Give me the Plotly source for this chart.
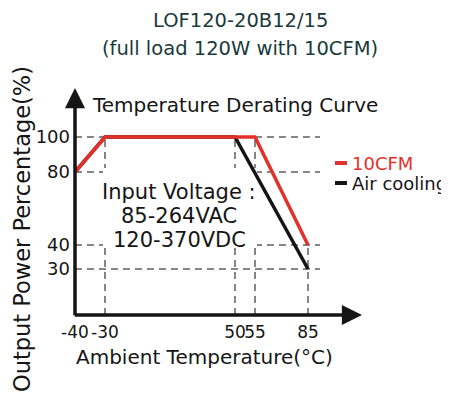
import numpy as np
import plotly.graph_objects as go

# ---------------- data ----------------
temp_ticks = [-40, -30, 50, 55, 85]
temp_labels = ["-40", "-30", "50", "55", "85"]
pct_ticks = [30, 40, 80, 100]
pct_labels = ["30", "40", "80", "100"]

cfm10_temp = [-40, -30, 55, 85]
cfm10_pct = [80, 100, 100, 40]
air_temp = [-40, -30, 50, 85]
air_pct = [80, 100, 100, 30]

# ------------- drawing scale (the drawing is not linear) -------------
T_ANCH = [-40, -30, 50, 55, 85]
T_POS = [0, 30, 160, 180, 233]
P_ANCH = [0, 30, 40, 80, 100]
P_POS = [0, 46, 70, 143, 178]


def sx(t):
    return np.interp(t, T_ANCH, T_POS)


def sy(p):
    return np.interp(p, P_ANCH, P_POS)


# page body has an 8px margin; lay the figure out in screen pixels minus that
OFF = 8
SW, SH = 449, 398
W, H = SW - OFF, SH - OFF
AX_X, AX_Y = 75, 315          # screen position of the axes corner
PLOT_R, PLOT_T = 365, 85      # screen right / top of plot area
L, T = AX_X - OFF, PLOT_T - OFF
R, B = W - (PLOT_R - OFF), H - (AX_Y - OFF)
XR = [0, PLOT_R - AX_X]
YR = [0, AX_Y - PLOT_T]


def px2paper_x(px):
    return (px - AX_X) / (PLOT_R - AX_X)


def px2paper_y(py):
    return (AX_Y - py) / (AX_Y - PLOT_T)


FONT = "DejaVu Sans"
RED = "#e4302b"
BLACK = "#151515"
GRID = "#5f5f5f"
TITLE_C = "#1b3a3b"

fig = go.Figure()
fig.add_trace(go.Scatter(x=sx(air_temp), y=sy(air_pct), mode="lines",
                         line=dict(color=BLACK, width=3.5), name="Air cooling",
                         showlegend=False))
fig.add_trace(go.Scatter(x=sx(cfm10_temp), y=sy(cfm10_pct), mode="lines",
                         line=dict(color=RED, width=3.5), name="10CFM",
                         showlegend=False))

shapes = []
XEND = 245
dash = dict(color=GRID, width=1.5, dash="7px,5px")
for p in pct_ticks:
    shapes.append(dict(type="line", xref="x", yref="y", x0=sx(-40), x1=XEND,
                       y0=sy(p), y1=sy(p), line=dash, layer="below"))
for t in temp_ticks[1:]:
    top = sy(100) if t != 85 else sy(40)
    shapes.append(dict(type="line", xref="x", yref="y", x0=sx(t), x1=sx(t),
                       y0=0, y1=top, line=dash, layer="below"))
# white panel behind the input-voltage note
shapes.append(dict(type="rect", xref="x", yref="y", x0=28, x1=182, y0=67, y1=147,
                   fillcolor="white", line=dict(width=0), layer="below"))
# legend swatches
shapes.append(dict(type="line", xref="x", yref="y", x0=260, x1=272, y0=152, y1=152,
                   line=dict(color=RED, width=4)))
shapes.append(dict(type="line", xref="x", yref="y", x0=260, x1=272, y0=132, y1=132,
                   line=dict(color=BLACK, width=4)))

ann = []
# axes with arrowheads
ann.append(dict(x=0, y=227, ax=0, ay=-1.75, xref="x", yref="y", axref="x", ayref="y",
                text="", showarrow=True, arrowhead=2, arrowsize=1.15, arrowwidth=3.5,
                arrowcolor=BLACK, standoff=0))
ann.append(dict(x=287, y=0, ax=-1.75, ay=0, xref="x", yref="y", axref="x", ayref="y",
                text="", showarrow=True, arrowhead=2, arrowsize=1.15, arrowwidth=3.5,
                arrowcolor=BLACK, standoff=0))


def paper_text(px, py, txt, size, color=BLACK, angle=0):
    return dict(x=px2paper_x(px), y=px2paper_y(py), xref="paper", yref="paper",
                xanchor="center", yanchor="middle", text=txt, textangle=angle,
                showarrow=False, font=dict(family=FONT, size=size, color=color))


# titles
ann.append(paper_text(240, 20, "LOF120-20B12/15", 19.5, TITLE_C))
ann.append(paper_text(240, 48, "(full load 120W with 10CFM)", 19.5, TITLE_C))
ann.append(paper_text(22, 229, "Output Power Percentage(%)", 22.5, BLACK, -90))
ann.append(paper_text(204.5, 357, "Ambient Temperature(°C)", 20))
ann.append(dict(x=15, y=210, xref="x", yref="y", xanchor="left", yanchor="middle",
                text="Temperature Derating Curve", showarrow=False,
                font=dict(family=FONT, size=20, color=BLACK)))
# note
for txt, yy in [("Input Voltage :", 123), ("85-264VAC", 99), ("120-370VDC", 75)]:
    ann.append(dict(x=104, y=yy, xref="x", yref="y", xanchor="center",
                    yanchor="middle", text=txt, showarrow=False,
                    font=dict(family=FONT, size=21, color=BLACK)))
# legend
ann.append(dict(x=275, y=152, xref="x", yref="y", xanchor="left", yanchor="middle",
                text="10CFM", showarrow=False,
                font=dict(family=FONT, size=18, color=RED)))
ann.append(dict(x=275, y=132, xref="x", yref="y", xanchor="left", yanchor="middle",
                text="Air cooling", showarrow=False,
                font=dict(family=FONT, size=18, color=BLACK)))

axis_common = dict(showgrid=False, zeroline=False, showline=False, ticks="",
                   automargin=False, fixedrange=True)
fig.update_layout(
    width=W, height=H,
    margin=dict(l=L, r=R, t=T, b=B, pad=0),
    paper_bgcolor="white", plot_bgcolor="white",
    xaxis=dict(range=XR, tickvals=list(sx(temp_ticks)), ticktext=temp_labels,
               tickangle=0, ticklabelstandoff=5,
               tickfont=dict(family=FONT, size=17, color=BLACK), **axis_common),
    yaxis=dict(range=YR, tickvals=list(sy(pct_ticks)), ticktext=pct_labels,
               ticklabelstandoff=4,
               tickfont=dict(family=FONT, size=18, color=BLACK), **axis_common),
    shapes=shapes, annotations=ann, showlegend=False,
)
fig.write_html("out.html")
